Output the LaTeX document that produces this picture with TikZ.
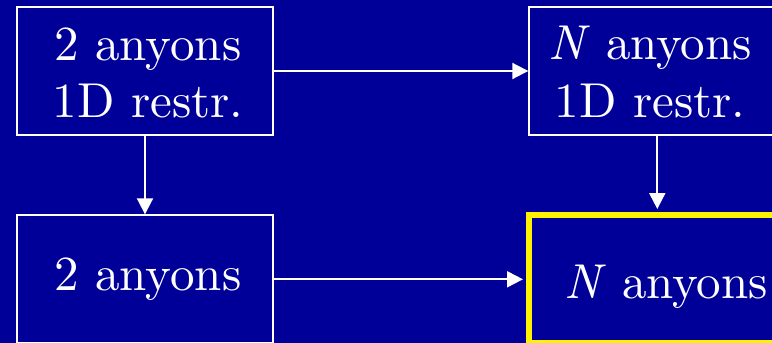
\documentclass[tikz,border=0pt]{standalone}
\usepackage{fontspec}
\setmainfont{lmroman10-regular}[Extension=.otf, ItalicFont=lmroman10-italic]
\usetikzlibrary{arrows.meta}
\definecolor{slidebg}{RGB}{0,0,153}
\begin{document}
\begin{tikzpicture}[x=1pt, y=-1pt,
  box/.style={draw=white, line width=2pt, minimum width=256pt, minimum height=128pt, inner sep=0pt},
  goal/.style={draw=yellow, line width=6pt, minimum width=256pt, minimum height=127.5pt, inner sep=0pt},
  lbl/.style={text=white, font=\fontsize{49}{59}\selectfont, inner sep=0pt, anchor=base},
  link/.style={draw=white, line width=2pt, -{Triangle[length=16pt, width=16pt]}}]
  % slide background
  \fill[slidebg] (0,0) rectangle (772,343);
  \useasboundingbox (0,0) rectangle (772,343);
  % boxes
  \node[box] (a) at (145,71) {};
  \node[box] (b) at (657.3,71) {};
  \node[box] (c) at (145,279.3) {};
  \node[goal] (d) at (657,278.75) {};
  % labels
  \node[lbl] (a1) at (148,60) {2 anyons};
  \node[lbl] (a2) at (148,117.3) {1D restr.};
  \node[lbl] (b1) at (650,59.3) {\textit{N} anyons};
  \node[lbl] (b2) at (650,117.3) {1D restr.};
  \node[lbl] (c1) at (148,290.7) {2 anyons};
  \node[lbl] (d1) at (666,298) {\textit{N} anyons};
  % connectors
  \draw[link] (a.east) -- (b.west);
  \draw[link] (a.south) -- (c.north);
  \draw[link, shorten >=3pt] (b.south) -- (b.south |- d.north);
  \draw[link, shorten >=3pt] (c.east) -- (c.east -| d.west);
\end{tikzpicture}
\end{document}
